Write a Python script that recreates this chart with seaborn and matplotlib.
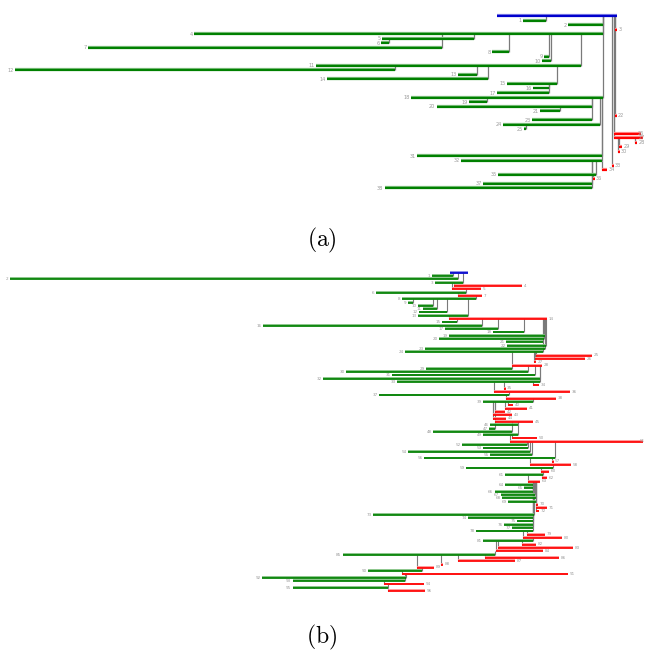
import numpy as np
import pandas as pd
import matplotlib
matplotlib.use("Agg")
import matplotlib.pyplot as plt
import matplotlib.patheffects as pe
import seaborn as sns

# ---------------- Panel (a) data ----------------
a_start = [497, 523, 568, 615, 194, 382, 381, 88, 492, 544, 542, 316, 15, 458, 327, 507, 533, 497, 411,
           469, 437, 540, 615, 532, 503, 524, 614, 614, 635, 619, 618, 417, 461, 612, 602, 498, 593, 483, 385]
a_end = [617, 546, 603, 617, 603, 474, 389, 442, 509, 549, 551, 581, 395, 477, 488, 557, 549, 549, 603,
         487, 592, 560, 616, 592, 600, 526, 641, 643, 637, 622, 619, 602, 602, 613, 607, 596, 594, 592, 592]
a_kind = ['b', 'g', 'g', 'r', 'g', 'g', 'g', 'g', 'g', 'g', 'g', 'g', 'g', 'g', 'g', 'g', 'g', 'g', 'g',
          'g', 'g', 'g', 'r', 'g', 'g', 'g', 'r', 'r', 'r', 'r', 'r', 'g', 'g', 'r', 'r', 'g', 'r', 'g', 'g']
a_parent = [-1, 0, 0, 0, 0, 4, 5, 4, 4, 4, 4, 4, 11, 11, 11, 11, 15, 15, 0,
            18, 18, 20, 0, 18, 18, 24, 0, 0, 27, 27, 27, 18, 18, 0, 32, 32, 35, 32, 32]

# ---------------- Panel (b) data ----------------
b_start = [450, 432, 10, 435, 454, 452, 376, 458, 402, 408, 418, 423, 419, 418, 449,
           442, 263, 445, 493, 449, 439, 506, 507, 425, 405, 536, 535, 534, 512, 426,
           346, 392, 323, 397, 533, 504, 494, 379, 506, 483, 508, 505, 495, 493, 493,
           495, 490, 489, 433, 483, 512, 510, 462, 483, 408, 490, 424, 552, 530, 466,
           541, 505, 542, 528, 505, 524, 495, 501, 502, 508, 536, 536, 536, 373, 468,
           517, 504, 512, 476, 527, 523, 483, 522, 498, 496, 343, 485, 458, 441, 417,
           368, 402, 262, 293, 384, 293, 388]
b_end = [468, 453, 458, 463, 522, 481, 466, 482, 476, 413, 433, 437, 447, 468, 547,
         457, 482, 498, 524, 545, 544, 543, 546, 545, 543, 592, 585, 536, 542, 512,
         528, 535, 540, 540, 539, 505, 570, 509, 556, 533, 513, 527, 505, 512, 506,
         533, 518, 495, 512, 518, 537, 643, 527, 528, 530, 532, 555, 553, 571, 553,
         549, 543, 547, 540, 533, 533, 533, 535, 536, 536, 538, 547, 539, 534, 533,
         533, 533, 533, 533, 545, 562, 533, 536, 573, 543, 495, 559, 515, 443, 434,
         422, 568, 406, 405, 424, 388, 425]
b_kind = ['b', 'g', 'g', 'g', 'r', 'r', 'g', 'r', 'g', 'g', 'g', 'g', 'g', 'g', 'r',
          'g', 'g', 'g', 'g', 'g', 'g', 'g', 'g', 'g', 'g', 'r', 'r', 'r', 'r', 'g',
          'g', 'g', 'g', 'g', 'r', 'r', 'r', 'g', 'r', 'g', 'r', 'r', 'r', 'r', 'r',
          'r', 'g', 'g', 'g', 'g', 'r', 'r', 'g', 'g', 'g', 'g', 'g', 'r', 'r', 'g',
          'r', 'g', 'r', 'r', 'g', 'g', 'g', 'g', 'g', 'g', 'r', 'r', 'r', 'g', 'g',
          'g', 'g', 'g', 'g', 'r', 'r', 'g', 'r', 'r', 'r', 'g', 'r', 'r', 'r', 'r',
          'g', 'r', 'g', 'g', 'r', 'g', 'r']
b_parent = [-1, 0, 0, 0, 3, 3, 5, 6, 7, 8, 8, 8, 8, 8, 13,
            14, 14, 14, 14, 14, 14, 14, 14, 14, 14, 24, 24, 24, 24, 28,
            28, 28, 28, 28, 33, 33, 33, 36, 37, 38, 39, 39, 39, 39, 39,
            39, 45, 45, 45, 45, 49, 49, 51, 51, 51, 51, 51, 56, 56, 58,
            59, 60, 61, 61, 63, 63, 63, 63, 63, 63, 63, 63, 63, 63, 63,
            63, 63, 63, 63, 78, 78, 80, 81, 81, 81, 84, 85, 85, 85, 85,
            89, 90, 91, 91, 93, 94, 95]

palette = {'g': '#008000', 'r': '#ff0000', 'b': '#0000cc'}
halo = {'g': '#7fbf7f', 'r': '#ff9090', 'b': '#8080e6'}

sns.set_theme(style="white")
plt.rcParams['mathtext.fontset'] = 'cm'

W, H = 645, 653
fig = plt.figure(figsize=(W / 100, H / 100), dpi=100)


def draw_panel(ax, start, end, kind, parent, lw, vlw, fs, shadow):
    n = len(start)
    rows = []
    for i in range(n):
        s, e = start[i], end[i]
        if e - s < 1.5:
            e = s + 1.5
        rows.append({'seg': i, 'x': s, 'y': i, 'kind': kind[i]})
        rows.append({'seg': i, 'x': e, 'y': i, 'kind': kind[i]})
    df = pd.DataFrame(rows)
    # connectors
    for i in range(n):
        p = parent[i]
        if p < 0:
            continue
        xc = end[i] if kind[i] == 'g' else start[i]
        ax.vlines(xc, p, i, colors='#7a7a7a', lw=vlw, zorder=1)
    for k in ['g', 'r', 'b']:
        sub = df[df['kind'] == k]
        if sub.empty:
            continue
        sns.lineplot(data=sub, x='x', y='y', units='seg', estimator=None, sort=False,
                     color=palette[k], lw=lw, legend=False, ax=ax)
        for ln in ax.lines[-sub['seg'].nunique():]:
            ln.set_zorder(2)
            ln.set_solid_capstyle('butt')
            ln.set_path_effects([pe.SimpleLineShadow(offset=(0, shadow), shadow_color=halo[k], alpha=1.0),
                                 pe.Normal()])
    for i in range(1, n):
        if kind[i] == 'r':
            x = end[i] + 2
            ha = 'left'
            if x > W - 6:
                x, ha = W - 0.5, 'right'
            ax.text(x, i - 0.1, str(i), fontsize=fs, color='#9a9a9a', ha=ha, va='center')
        else:
            ax.text(start[i] - 1.5, i, str(i), fontsize=fs, color='#9a9a9a', ha='right', va='center')
    ax.set_xlim(0, W)
    ax.set_axis_off()


# panel (a): pixel rows 10..195, row i at 16 + 4.53 i
ax_a = fig.add_axes([0, 1 - 195 / H, 1, 185 / H])
draw_panel(ax_a, a_start, a_end, a_kind, a_parent, lw=1.6, vlw=0.9, fs=3.6, shadow=0.7)
ax_a.set_ylim(39.51, -1.325)

# panel (b): pixel rows 265..598, row i at 272.7 + 3.316 i
ax_b = fig.add_axes([0, 1 - 598 / H, 1, 333 / H])
draw_panel(ax_b, b_start, b_end, b_kind, b_parent, lw=1.25, vlw=0.8, fs=3.0, shadow=0.6)
ax_b.set_ylim(98.1, -2.32)

fig.text(322 / W, 1 - 240 / H, r'$(\mathrm{a})$', fontsize=17, ha='center', va='center', color='black')
fig.text(322 / W, 1 - 637 / H, r'$(\mathrm{b})$', fontsize=17, ha='center', va='center', color='black')

fig.savefig('out.png', dpi=100, facecolor='white')
